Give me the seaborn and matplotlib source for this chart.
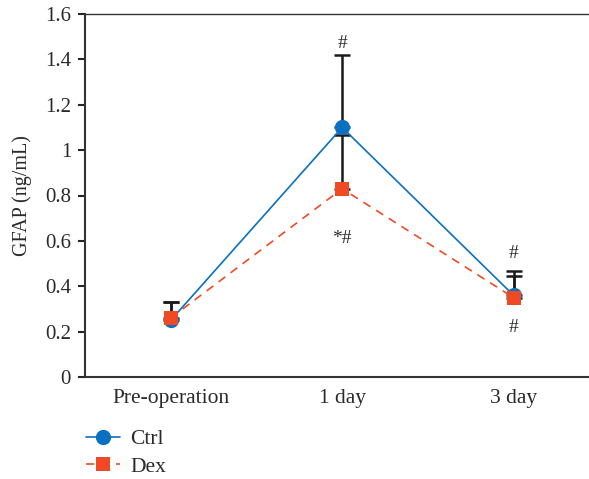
import numpy as np
import pandas as pd
import seaborn as sns
import matplotlib
matplotlib.use('Agg')
import matplotlib.pyplot as plt

sns.set_style('ticks')
plt.rcParams['font.family'] = ['Liberation Serif', 'DejaVu Serif']

times = ['Pre-operation', '1 day', '3 day']
ctrl = [0.25, 1.10, 0.36]
dex = [0.26, 0.83, 0.35]
ctrl_err = [0.08, 0.32, 0.107]
dex_err = [0.07, 0.237, 0.095]
yticks = [0, 0.2, 0.4, 0.6, 0.8, 1, 1.2, 1.4, 1.6]
ytick_labels = ['0', '0.2', '0.4', '0.6', '0.8', '1', '1.2', '1.4', '1.6']
# significance marks: (x index, y, text)
marks = [(1, 1.47, '#'), (1, 0.61, '*#'), (2, 0.545, '#'), (2, 0.22, '#')]

df = pd.DataFrame({'time': times * 2,
                   'value': ctrl + dex,
                   'group': ['Ctrl'] * 3 + ['Dex'] * 3})

blue = '#0a70c0'
red = '#f04a25'
txt_col = '#2a2a2a'

fig = plt.figure(figsize=(5.89, 4.79), dpi=100)
ax = fig.add_axes([85 / 589, 102 / 479, 504 / 589, 363 / 479])

sns.lineplot(data=df, x='time', y='value', hue='group', style='group',
             palette={'Ctrl': blue, 'Dex': red},
             markers={'Ctrl': 'o', 'Dex': 's'},
             dashes={'Ctrl': '', 'Dex': (5, 4)},
             markersize=11, markeredgewidth=0, linewidth=1.2,
             ax=ax, legend=True, zorder=2)
# squares a bit smaller than the circles
for ln in ax.lines:
    if ln.get_marker() == 's':
        ln.set_markersize(9.5)

xpos = np.arange(len(times))
ax.errorbar(xpos, dex, yerr=[np.zeros(3), dex_err], fmt='none',
            ecolor='#1a1a1a', elinewidth=1.8, capsize=5.5, capthick=1.8, zorder=1)
ax.errorbar(xpos, ctrl, yerr=[np.zeros(3), ctrl_err], fmt='none',
            ecolor='#1a1a1a', elinewidth=1.8, capsize=5.5, capthick=1.8, zorder=1)

for xi, yi, txt in marks:
    ax.text(xi, yi, txt, ha='center', va='center', fontsize=14, color=txt_col)

ax.set_xlim(-0.5, 2.44)
ax.set_ylim(0, 1.6)
ax.set_yticks(yticks)
ax.set_yticklabels(ytick_labels)
ax.set_xlabel('')
ax.set_ylabel('GFAP (ng/mL)', fontsize=14.5, color=txt_col, labelpad=9)
ax.tick_params(axis='x', length=0, labelsize=15.5, pad=9, labelcolor=txt_col)
ax.tick_params(axis='y', length=5, width=1.5, labelsize=15, direction='out',
               labelcolor=txt_col, pad=5)
ax.spines['right'].set_visible(False)
for s in ['left', 'bottom', 'top']:
    ax.spines[s].set_color('#333333')
ax.spines['left'].set_linewidth(1.5)
ax.spines['bottom'].set_linewidth(1.5)
ax.spines['top'].set_linewidth(1.0)

handles, labels = ax.get_legend_handles_labels()
ax.legend_.remove()
leg = fig.legend(handles, labels, loc='upper left', bbox_to_anchor=(0.146, 0.104),
                 frameon=False, fontsize=15.5, handlelength=1.6, labelspacing=0.35,
                 borderaxespad=0, borderpad=0, handletextpad=0.45)
for t in leg.get_texts():
    t.set_color(txt_col)

fig.savefig('out.png', dpi=100)
